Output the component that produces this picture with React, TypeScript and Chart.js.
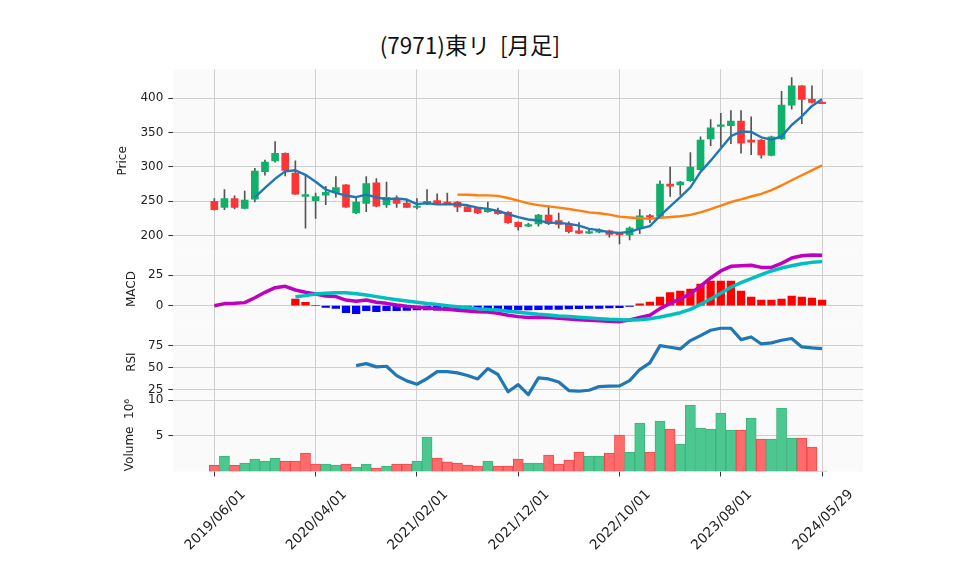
import React, { useEffect, useRef } from 'react';
import { Chart, registerables } from 'chart.js';

Chart.register(...registerables);

// ---------------- data ----------------
const dates = [
  '2019/06/01', '2019/07/01', '2019/08/01', '2019/09/01', '2019/10/01', '2019/11/01', '2019/12/01',
  '2020/01/01', '2020/02/01', '2020/03/01', '2020/04/01', '2020/05/01', '2020/06/01',
  '2020/07/01', '2020/08/01', '2020/09/01', '2020/10/01', '2020/11/01', '2020/12/01',
  '2021/01/01', '2021/02/01', '2021/03/01', '2021/04/01', '2021/05/01', '2021/06/01',
  '2021/07/01', '2021/08/01', '2021/09/01', '2021/10/01', '2021/11/01', '2021/12/01',
  '2022/01/01', '2022/02/01', '2022/03/01', '2022/04/01', '2022/05/01', '2022/06/01',
  '2022/07/01', '2022/08/01', '2022/09/01', '2022/10/01', '2022/11/01', '2022/12/01',
  '2023/01/01', '2023/02/01', '2023/03/01', '2023/04/01', '2023/05/01', '2023/06/01',
  '2023/07/01', '2023/08/01', '2023/09/01', '2023/10/01', '2023/11/01', '2023/12/01',
  '2024/01/01', '2024/02/01', '2024/03/01', '2024/04/01', '2024/05/01', '2024/05/29',
];

const opens = [
  250, 241, 254, 239.5, 253, 293, 309, 320, 291, 257,
  251, 259, 263, 274, 233, 247, 277, 245, 254, 247.5,
  241, 246, 251, 249, 249, 242, 240, 235, 236, 234,
  219.5, 214, 217, 230, 222, 217, 207, 203.5, 205, 207,
  203.5, 201, 211, 229, 228, 275, 274, 280, 296, 341,
  359, 360, 367, 339, 339, 317, 341, 390, 418, 398.5,
  394.5,
];
const highs = [
  254, 267, 258, 265, 298, 310, 337, 320.5, 309, 288,
  262, 272, 286, 274.5, 255, 286, 283, 278, 258, 252,
  254, 267, 261, 262, 250, 245, 241, 249, 240, 235,
  220, 218, 231, 243, 233, 220, 219, 208, 210, 208,
  205, 213, 238, 231, 280, 300, 279, 321, 344, 369,
  378, 382, 382, 373, 340, 345, 410, 430, 418.5, 418,
  395,
];
const lows = [
  237, 238, 239, 239, 249, 288, 307, 287, 260, 211,
  225, 245, 256, 241, 232, 235, 242, 241, 241, 241,
  239, 245, 246, 246, 235, 235, 232, 234, 231, 218,
  208, 213, 214, 216, 211, 204, 203, 203, 204, 198,
  188, 194, 203, 219, 226, 257, 259, 279, 295, 331,
  330, 334, 320, 318, 313, 316, 340, 384, 363, 393,
  392,
];
const closes = [
  238, 254, 241, 252, 294, 307, 320, 295, 260.5, 260,
  257, 263, 270, 241.5, 249, 276, 243, 256, 247, 241,
  243, 250, 247.5, 246.5, 242, 235, 233, 238, 232, 219,
  213, 216, 230, 217.5, 216.5, 206, 203.5, 206, 208, 202,
  201.5, 211, 229, 227, 275, 272, 278, 300, 339, 357,
  361, 367, 334.5, 336, 317.5, 344, 390, 418, 398.5, 394,
  392,
];
// volume in units of 10^6 shares
const volumes = [
  0.86, 2.17, 0.86, 1.19, 1.75, 1.47, 1.89, 1.47, 1.47, 2.59,
  1.05, 1.05, 0.91, 1.05, 0.58, 1.05, 0.49, 0.77, 1.05, 1.05,
  1.47, 4.83, 1.89, 1.37, 1.19, 0.91, 0.77, 1.47, 0.77, 0.77,
  1.75, 1.19, 1.19, 2.31, 1.05, 1.61, 2.73, 2.17, 2.17, 2.59,
  5.11, 2.73, 6.79, 2.73, 7.07, 5.95, 3.85, 9.32, 6.09, 5.95,
  8.2, 5.81, 5.81, 7.5, 4.55, 4.55, 8.9, 4.69, 4.69, 3.43,
  0.07,
];

const ma5Start = 4;
const ma5 = [
  255.8, 269.6, 282.8, 293.6, 295.2, 288.6, 278.6, 267.2, 262.2, 258.4,
  256, 259.8, 255.8, 253, 254.2, 252.6, 246, 247.4, 245.6, 245.6,
  245.8, 244.2, 240.8, 239, 236, 231.4, 227, 223.6, 222, 219,
  218.6, 217.2, 214.7, 209.9, 208.1, 204.9, 204.1, 205.6, 210.2, 214,
  228.8, 242.8, 256.2, 270.4, 292.8, 309.2, 327, 344.8, 351.7, 351.1,
  343.2, 339.8, 344.4, 361.1, 373.6, 388.9, 398.5,
];
const ma25Start = 24;
const ma25 = [
  259.8, 259.6, 258.8, 258.7, 257.9, 254.9, 251.1, 247, 244.4, 242.6,
  240.9, 238.8, 236.5, 233.9, 232.6, 230.7, 227.7, 226.4, 225.3, 224.5,
  225.9, 227.1, 228.2, 230.3, 234, 238.6, 243.6, 249, 252.8, 257,
  260.9, 266.2, 273.1, 280.7, 287.9, 295, 302.4,
];

const macd = [
  0, 1.7, 1.9, 2.5, 6.5, 10.9, 14.7, 15.8, 12.8, 10.9,
  9.5, 7.9, 7.4, 4.6, 3.6, 4.6, 2.8, 1.9, 0.6, -0.5,
  -1.3, -1.9, -2.4, -3.0, -3.8, -4.3, -4.9, -5.1, -6.2, -7.8,
  -8.9, -9.7, -9.5, -9.7, -10.3, -10.8, -11.4, -11.9, -12.2, -12.7,
  -13, -11.6, -9.5, -7.8, -2.4, 1.9, 5.5, 9.8, 16, 22.6,
  28.3, 32.1, 32.6, 32.9, 31.2, 31.2, 34.5, 38.8, 40.7, 41.3,
  41.0,
];
const signalStart = 8;
const signal = [
  7.3, 8.2, 9.5, 10.1, 10.6, 10.6, 9.8, 8.7, 7.4, 6.0,
  4.9, 3.8, 2.8, 1.7, 0.9, 0, -0.8, -1.6, -2.4, -3.0,
  -3.6, -4.6, -5.4, -6.2, -7.0, -7.6, -8.4, -8.9, -9.5, -10,
  -10.6, -11.1, -11.4, -11.6, -11.4, -10.6, -9.2, -7.6, -5.7, -3.0,
  1.1, 5.5, 10.1, 15, 18.8, 22, 25.3, 28.3, 30.7, 32.6,
  34.2, 35.3, 35.9,
];
const histStart = 8;
const hist = [
  5.4, 2.7, 0, -1.4, -2.2, -5.7, -6.5, -4.1, -4.9, -4.1,
  -4.1, -3.8, -3.5, -3.5, -3.6, -3.6, -3.5, -3.4, -3.3, -3.4,
  -3.5, -3.5, -3.5, -3.5, -3.3, -3.0, -3.0, -2.6, -2.4, -2.2,
  -2.2, -1.9, -1.6, -0.6, 1.6, 3.0, 7.1, 10.6, 11.9, 13.6,
  17.6, 20.1, 20.1, 20.1, 11.9, 7.1, 4.6, 4.6, 5.4, 7.9,
  7.1, 6.2, 4.6,
];
const rsiStart = 14;
const rsi = [
  52.6, 54.8, 51.1, 51.8, 41.3, 35.3, 31.5, 37.9, 45.8, 45.8,
  44.3, 41.3, 37.5, 49.2, 42.5, 23, 31.1, 19.8, 38.7, 37.5,
  34.1, 24.4, 23.6, 24.7, 28.9, 29.3, 29.6, 35.6, 48.1, 55.6,
  75.1, 73.3, 71.4, 80.8, 86.4, 92.5, 94.7, 94.7, 81.9, 84.9,
  77, 78.2, 81.2, 83.1, 73.6, 72.5, 71.8,
];

const xTickIdx = [0, 10, 20, 30, 40, 50, 60];
const priceTicks = [200, 250, 300, 350, 400];
const macdTicks = [0, 25];
const rsiTicks = [25, 50, 75];
const volumeTicks = [5, 10];

const titleText = '(7971)東リ  [月足]';

// ---------------- styling ----------------
const FONT = 'DejaVu Sans';
const GRID = '#cfcfcf';
const TEXT = '#222222';
const X_MIN = -4.05;
const X_MAX = 64.04;
const AXIS_LEFT = 173.3;
const PAD_RIGHT = 958 - 863;
const UP = '#0fb06a';
const DOWN = '#fe3435';
const VOL_UP = '#4dc790';
const VOL_DOWN = '#fd6b6c';

const bgPlugin = {
  id: 'panelBg',
  beforeDraw(chart: any) {
    const { ctx, chartArea: a } = chart;
    if (!a) return;
    ctx.save();
    ctx.fillStyle = '#fafafa';
    ctx.fillRect(a.left, a.top, a.right - a.left, a.bottom - a.top);
    ctx.restore();
  },
};

function xScale(showLabels: boolean, height: number) {
  return {
    type: 'linear',
    min: X_MIN,
    max: X_MAX,
    offset: false,
    afterBuildTicks: (s: any) => {
      s.ticks = xTickIdx.map((v) => ({ value: v }));
    },
    afterFit: (s: any) => {
      s.height = height;
    },
    grid: {
      offset: false,
      color: GRID,
      lineWidth: 1,
      drawTicks: showLabels,
      tickLength: 5,
      tickColor: '#333333',
      tickWidth: 1,
    },
    border: { display: false },
    ticks: {
      display: showLabels,
      autoSkip: false,
      minRotation: 45,
      maxRotation: 45,
      labelOffset: 29,
      padding: 10,
      color: TEXT,
      font: { family: FONT, size: 13.7 },
      callback: (v: any) => dates[Math.round(Number(v))] ?? '',
    },
  };
}

function yScale(min: number, max: number, ticks: number[], title: string, width: number) {
  return {
    type: 'linear',
    position: 'left',
    min,
    max,
    afterBuildTicks: (s: any) => {
      s.ticks = ticks.map((v) => ({ value: v }));
    },
    afterFit: (s: any) => {
      s.width = width;
    },
    grid: {
      color: GRID,
      lineWidth: 1,
      drawTicks: true,
      tickLength: 5,
      tickColor: '#333333',
      tickWidth: 1,
    },
    border: { display: false },
    ticks: {
      color: TEXT,
      padding: 5,
      font: { family: FONT, size: 12 },
      callback: (v: any) => String(v),
    },
    title: {
      display: true,
      text: title,
      color: TEXT,
      padding: { top: 0, bottom: 0 },
      font: { family: FONT, size: 12 },
    },
  };
}

function baseOptions(
  pad: { top: number; bottom: number; left: number },
  x: any,
  y: any,
) {
  return {
    responsive: false,
    animation: false,
    events: [],
    layout: { padding: { top: pad.top, bottom: pad.bottom, left: pad.left, right: PAD_RIGHT } },
    plugins: { legend: { display: false }, tooltip: { enabled: false }, title: { display: false } },
    scales: { x, y },
  };
}

function lineData(values: number[], start: number) {
  return values.map((v, k) => ({ x: start + k, y: v }));
}

// panels: canvas top/height and desired plot area
const PANELS = {
  price: { top: 53, height: 216, plotTop: 69.3, plotBottom: 252.3, titleX: 123 },
  macd: { top: 236, height: 106, plotTop: 252.3, plotBottom: 325.7, titleX: 132 },
  rsi: { top: 309, height: 106, plotTop: 325.7, plotBottom: 398.5, titleX: 132 },
  volume: { top: 382, height: 193, plotTop: 398.5, plotBottom: 471.5, titleX: 130 },
};

function padFor(p: { top: number; height: number; plotTop: number; plotBottom: number; titleX: number }, bottomAxis: number) {
  const left = p.titleX - 7.2;
  return {
    top: p.plotTop - p.top,
    bottom: p.top + p.height - p.plotBottom - bottomAxis,
    left,
    width: AXIS_LEFT - left,
  };
}

function priceConfig() {
  const pad = padFor(PANELS.price, 0);
  return {
    type: 'bar',
    data: {
      datasets: [
        {
          type: 'line',
          data: lineData(ma5, ma5Start),
          borderColor: '#1f77b4',
          borderWidth: 2.4,
          pointRadius: 0,
          tension: 0,
          borderJoinStyle: 'round',
          order: 0,
        },
        {
          type: 'line',
          data: lineData(ma25, ma25Start),
          borderColor: '#ff7f0e',
          borderWidth: 2.4,
          pointRadius: 0,
          tension: 0,
          borderJoinStyle: 'round',
          order: 0,
        },
        {
          type: 'bar',
          data: opens.map((o, i) => ({ x: i, y: [Math.min(o, closes[i]), Math.max(o, closes[i])] })),
          backgroundColor: opens.map((o, i) => (closes[i] >= o ? UP : DOWN)),
          barThickness: 7,
          minBarLength: 1.5,
          grouped: false,
          order: 1,
        },
        {
          type: 'bar',
          data: highs.map((h, i) => ({ x: i, y: [lows[i], h] })),
          backgroundColor: '#555555',
          barThickness: 1,
          grouped: false,
          order: 2,
        },
      ],
    },
    options: baseOptions(pad, xScale(false, 0), yScale(175.8, 442.2, priceTicks, 'Price', pad.width)),
    plugins: [bgPlugin],
  };
}

function macdConfig() {
  const pad = padFor(PANELS.macd, 0);
  return {
    type: 'bar',
    data: {
      datasets: [
        {
          type: 'line',
          data: lineData(signal, signalStart),
          borderColor: '#00bfbf',
          borderWidth: 3.5,
          pointRadius: 0,
          tension: 0,
          borderJoinStyle: 'round',
          order: 0,
        },
        {
          type: 'line',
          data: lineData(macd, 0),
          borderColor: '#bf00bf',
          borderWidth: 3.5,
          pointRadius: 0,
          tension: 0,
          borderJoinStyle: 'round',
          order: 1,
        },
        {
          type: 'bar',
          data: lineData(hist, histStart),
          backgroundColor: hist.map((v) => (v >= 0 ? '#ff0000' : '#0000ff')),
          barThickness: 7.6,
          grouped: false,
          order: 2,
        },
      ],
    },
    options: baseOptions(pad, xScale(false, 0), yScale(-16.3, 43.5, macdTicks, 'MACD', pad.width)),
    plugins: [bgPlugin],
  };
}

function rsiConfig() {
  const pad = padFor(PANELS.rsi, 0);
  return {
    type: 'line',
    data: {
      datasets: [
        {
          data: lineData(rsi, rsiStart),
          borderColor: '#1f77b4',
          borderWidth: 3.2,
          pointRadius: 0,
          tension: 0,
          borderJoinStyle: 'round',
        },
      ],
    },
    options: baseOptions(pad, xScale(false, 0), yScale(15.4, 97.6, rsiTicks, 'RSI', pad.width)),
    plugins: [bgPlugin],
  };
}

function volumeConfig() {
  const axisH = PANELS.volume.top + PANELS.volume.height - PANELS.volume.plotBottom;
  const pad = padFor(PANELS.volume, axisH);
  const up = closes.map((c, i) => (i === 0 ? c >= opens[0] : c >= closes[i - 1]));
  return {
    type: 'bar',
    data: {
      datasets: [
        {
          type: 'bar',
          data: lineData(volumes, 0),
          backgroundColor: up.map((u) => (u ? VOL_UP : VOL_DOWN)),
          borderColor: up.map((u) => (u ? '#3db37c' : '#f04848')),
          borderWidth: 1,
          borderSkipped: false,
          barThickness: 10.1,
          grouped: false,
        },
      ],
    },
    options: baseOptions(pad, xScale(true, axisH), yScale(0, 10.23, volumeTicks, 'Volume  10⁶', pad.width)),
    plugins: [bgPlugin],
  };
}

function ChartCanvas({ top, height, make }: { top: number; height: number; make: () => any }) {
  const ref = useRef<HTMLCanvasElement | null>(null);
  useEffect(() => {
    if (!ref.current) return;
    const chart = new Chart(ref.current, make());
    return () => chart.destroy();
  }, []);
  return (
    <canvas
      ref={ref}
      width={958}
      height={height}
      style={{ position: 'absolute', left: 0, top, width: 958, height, display: 'block' }}
    />
  );
}

export default function App() {
  return (
    <div
      style={{
        position: 'fixed',
        left: 0,
        top: 0,
        width: 958,
        height: 575,
        background: '#ffffff',
        overflow: 'hidden',
      }}
    >
      <div
        style={{
          position: 'absolute',
          left: 0,
          top: 29,
          width: 940,
          textAlign: 'center',
          fontFamily: '"Noto Sans CJK JP", "DejaVu Sans", sans-serif',
          fontSize: 22.5,
          lineHeight: '30px',
          color: '#111111',
          whiteSpace: 'pre',
        }}
      >
        {titleText}
      </div>
      <ChartCanvas top={PANELS.price.top} height={PANELS.price.height} make={priceConfig} />
      <ChartCanvas top={PANELS.macd.top} height={PANELS.macd.height} make={macdConfig} />
      <ChartCanvas top={PANELS.rsi.top} height={PANELS.rsi.height} make={rsiConfig} />
      <ChartCanvas top={PANELS.volume.top} height={PANELS.volume.height} make={volumeConfig} />
    </div>
  );
}
